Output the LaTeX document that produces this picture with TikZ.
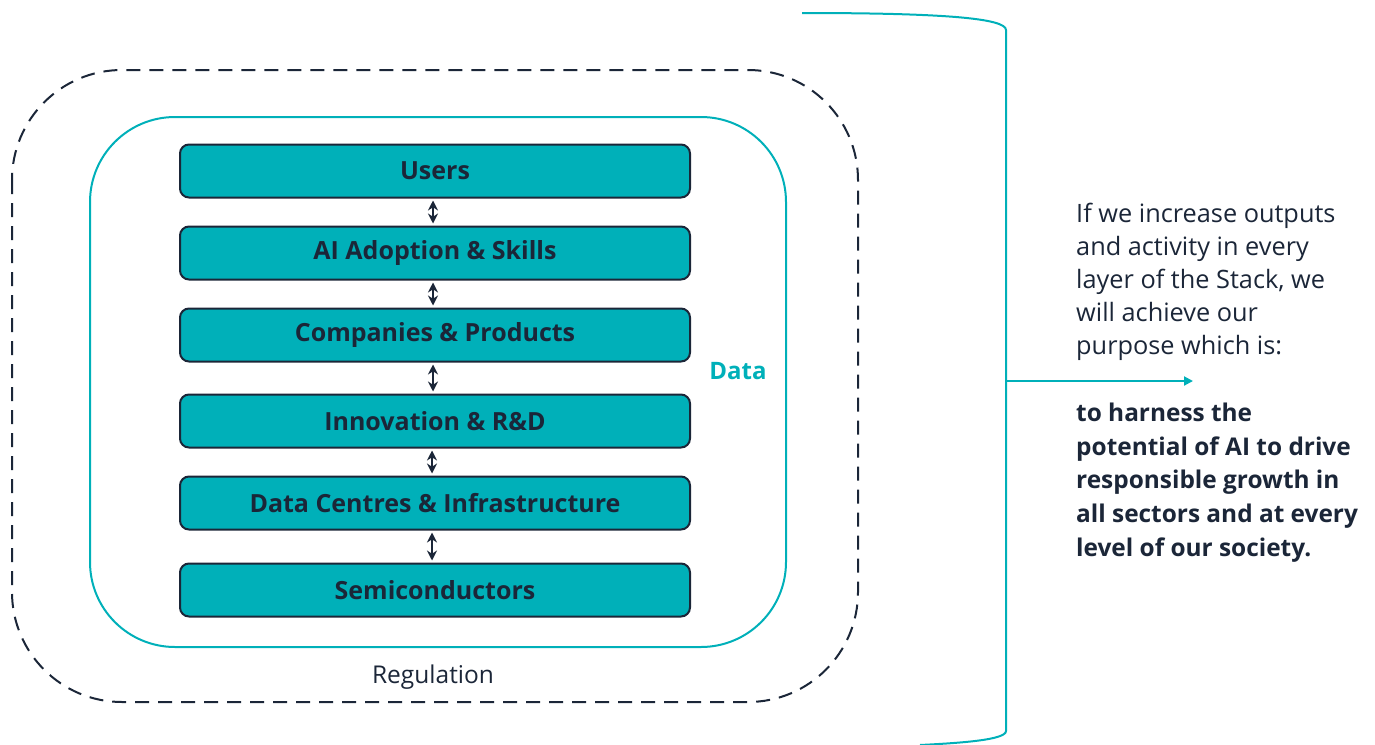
\documentclass[tikz,border=0pt]{standalone}
\usepackage{fontspec}
\setmainfont{Open Sans}
\usetikzlibrary{arrows.meta}
\definecolor{teal1}{HTML}{00B0B9}
\definecolor{navy}{HTML}{1B2638}
\begin{document}
\begin{tikzpicture}[x=1pt,y=-1pt,
  layer/.style={draw=navy,line width=2pt,fill=teal1,rounded corners=9pt,minimum width=510pt,minimum height=53pt,inner sep=0pt,font=\fontsize{25}{30}\selectfont\bfseries,text=navy},
  link/.style={navy,line width=1.8pt,{Stealth[length=10pt,width=10pt]}-{Stealth[length=10pt,width=10pt]},shorten <=2pt,shorten >=2pt},
  plain/.style={font=\fontsize{25.3}{33}\selectfont,text=navy,align=left,inner sep=0pt,anchor=north west}]
\useasboundingbox (0,0) rectangle (1375,744);
% outer regulation frame
\draw[navy,line width=2pt,dash pattern=on 14pt off 9pt,rounded corners=110pt] (12,70) rectangle (858,702);
% inner data frame
\draw[teal1,line width=2pt,rounded corners=85pt] (90,117) rectangle (786,647);
% layers
\node[layer] (users) at (435,171) {Users};
\node[layer] (adopt) at (435,253) {AI Adoption \& Skills};
\node[layer] (comp) at (435,335) {Companies \& Products};
\node[layer] (innov) at (435,421) {Innovation \& R\&D};
\node[layer] (dc) at (435,503) {Data Centres \& Infrastructure};
\node[layer] (semi) at (435,590) {Semiconductors};
\draw[link] (users.south) ++(-2,0) coordinate (u1) -- (u1 |- adopt.north);
\draw[link] (adopt.south) ++(-2,0) coordinate (a1) -- (a1 |- comp.north);
\draw[link] (comp.south) ++(-2,0) coordinate (c1) -- (c1 |- innov.north);
\draw[link] (innov.south) ++(-3,0) coordinate (i1) -- (i1 |- dc.north);
\draw[link] (dc.south) ++(-3,0) coordinate (d1) -- (d1 |- semi.north);
% labels
\node[font=\fontsize{24}{28}\selectfont\bfseries,text=teal1] (data) at (738,371) {Data};
\node[font=\fontsize{24.5}{28}\selectfont,text=navy] (reg) at (433,677) {Regulation};
% bracket
\draw[teal1,line width=2pt] (802,13) .. controls (940,13) and (1006,18) .. (1006,30) -- (1006,731) .. controls (1006,740) and (960,743) .. (920,745);
\coordinate (bmid) at (1006,381);
\coordinate (aend) at (1193,381);
\draw[teal1,line width=2pt,-{Triangle[length=9pt,width=9pt]}] (bmid) -- (aend);
% right text
\node[plain] (cond) at (1076,202.5) {If we increase outputs\\and activity in every\\layer of the Stack, we\\will achieve our\\purpose which is:};
\node[plain,font=\fontsize{24.4}{33.8}\selectfont\bfseries] (purp) at (1076,402.5) {to harness the\\potential of AI to drive\\responsible growth in\\all sectors and at every\\level of our society.};
\end{tikzpicture}
\end{document}
